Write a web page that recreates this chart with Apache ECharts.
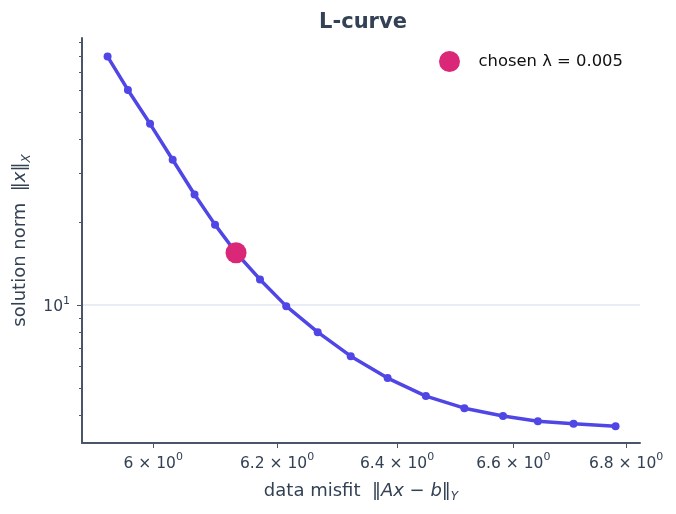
<!DOCTYPE html>
<html>
<head>
<meta charset="UTF-8">
<script src="https://cdn.jsdelivr.net/npm/echarts@6/dist/echarts.min.js"></script>
<style>
  body { margin: 0; background: #fff; }
  #chart { width: 676px; height: 514px; }
</style>
</head>
<body>
<div id="chart"></div>
<script>
// L-curve: data misfit vs solution norm (log-log)
const misfit = [5.928, 5.960, 5.995, 6.031, 6.066, 6.099, 6.133, 6.172, 6.215,
  6.267, 6.322, 6.384, 6.449, 6.515, 6.582, 6.643, 6.706, 6.781]
const solNorm = [79.8, 60.4, 45.5, 33.7, 25.2, 19.6, 15.5, 12.4, 9.92,
  7.98, 6.53, 5.44, 4.68, 4.23, 3.96, 3.79, 3.71, 3.64]
const chosen = [6.133, 15.5]
const chosenLabel = 'chosen λ = 0.005'

const xTicks = [6, 6.2, 6.4, 6.6, 6.8]
const xTickMant = ['6', '6.2', '6.4', '6.6', '6.8']
const yMajor = [10]
const yMinor = [4, 5, 6, 7, 8, 9, 20, 30, 40, 50, 60, 70, 80, 90]

const INK = '#334155'
const AXIS = '#4a5568'
const FONT = 'DejaVu Sans'

const chart = echarts.init(document.getElementById('chart'))

// 上标/下标 rich 样式
const tickRich = {
  n: { fontFamily: FONT, fontSize: 15.5, color: INK, lineHeight: 20, verticalAlign: 'bottom' },
  sup: { fontFamily: FONT, fontSize: 11, color: INK, verticalAlign: 'top', lineHeight: 20 }
}
const nameRich = {
  t: { fontFamily: FONT, fontSize: 18, color: INK, lineHeight: 24, verticalAlign: 'middle' },
  i: { fontFamily: FONT, fontSize: 18, fontStyle: 'italic', color: INK, lineHeight: 24, verticalAlign: 'middle' },
  s: { fontFamily: FONT, fontSize: 12, fontStyle: 'italic', color: INK, lineHeight: 24, verticalAlign: 'bottom' }
}

const yBase = {
  type: 'log',
  logBase: 10,
  min: 3.162,
  max: 93.2,
  position: 'left',
  axisLine: { show: false },
  splitLine: { show: false },
  axisLabel: { show: false },
  axisTick: { show: false }
}

chart.setOption({
  animation: false,
  title: {
    text: 'L-curve',
    left: 358,
    textAlign: 'center',
    top: 7,
    textStyle: { fontFamily: FONT, fontSize: 21, fontWeight: 'bold', color: INK }
  },
  legend: {
    data: [chosenLabel],
    left: 439,
    top: 51,
    padding: 0,
    icon: 'circle',
    itemWidth: 48,
    itemHeight: 21,
    textStyle: { fontFamily: FONT, fontSize: 16.4, color: '#111' }
  },
  grid: { left: 82, right: 36, top: 38, bottom: 71 },
  xAxis: {
    type: 'log',
    logBase: 10,
    min: 5.888,
    max: 6.825,
    name: '{t|data misfit  ‖}{i|Ax}{t| − }{i|b}{t|‖}{s|Y}',
    nameLocation: 'middle',
    nameGap: 36,
    nameTextStyle: { rich: nameRich },
    axisLine: { lineStyle: { color: AXIS, width: 2 } },
    axisTick: { customValues: xTicks, length: 5, lineStyle: { color: AXIS } },
    axisLabel: {
      customValues: xTicks,
      margin: 9,
      rich: tickRich,
      formatter: v => {
        const i = xTicks.findIndex(t => Math.abs(t - v) < 1e-6)
        return i >= 0 ? '{n|' + xTickMant[i] + ' × 10}{sup|0}' : ''
      }
    },
    splitLine: { show: false }
  },
  yAxis: [
    Object.assign({}, yBase, {
      name: '{t|solution norm  ‖}{i|x}{t|‖}{s|X}',
      nameLocation: 'middle',
      nameGap: 46,
      nameTextStyle: { rich: nameRich },
      axisLine: { show: true, lineStyle: { color: AXIS, width: 2 } },
      axisTick: { show: true, customValues: yMajor, length: 5, lineStyle: { color: AXIS } },
      axisLabel: {
        show: true, customValues: yMajor,
        margin: 12,
        rich: tickRich,
        formatter: () => '{n|10}{sup|1}'
      },
      splitLine: { show: true, lineStyle: { color: '#e2e6f0', width: 1.5 } }
    }),
    Object.assign({}, yBase, {
      axisTick: { show: true, customValues: yMinor, length: 3, lineStyle: { color: AXIS } }
    })
  ],
  series: [
    {
      type: 'line',
      data: misfit.map((x, i) => [x, solNorm[i]]),
      symbol: 'circle',
      symbolSize: 8,
      lineStyle: { color: '#4f46e5', width: 3.5 },
      itemStyle: { color: '#4f46e5' },
      z: 2
    },
    {
      name: chosenLabel,
      type: 'scatter',
      data: [chosen],
      symbol: 'circle',
      symbolSize: 21,
      itemStyle: { color: '#db2777', opacity: 1 },
      z: 3
    }
  ]
})
</script>
</body>
</html>
